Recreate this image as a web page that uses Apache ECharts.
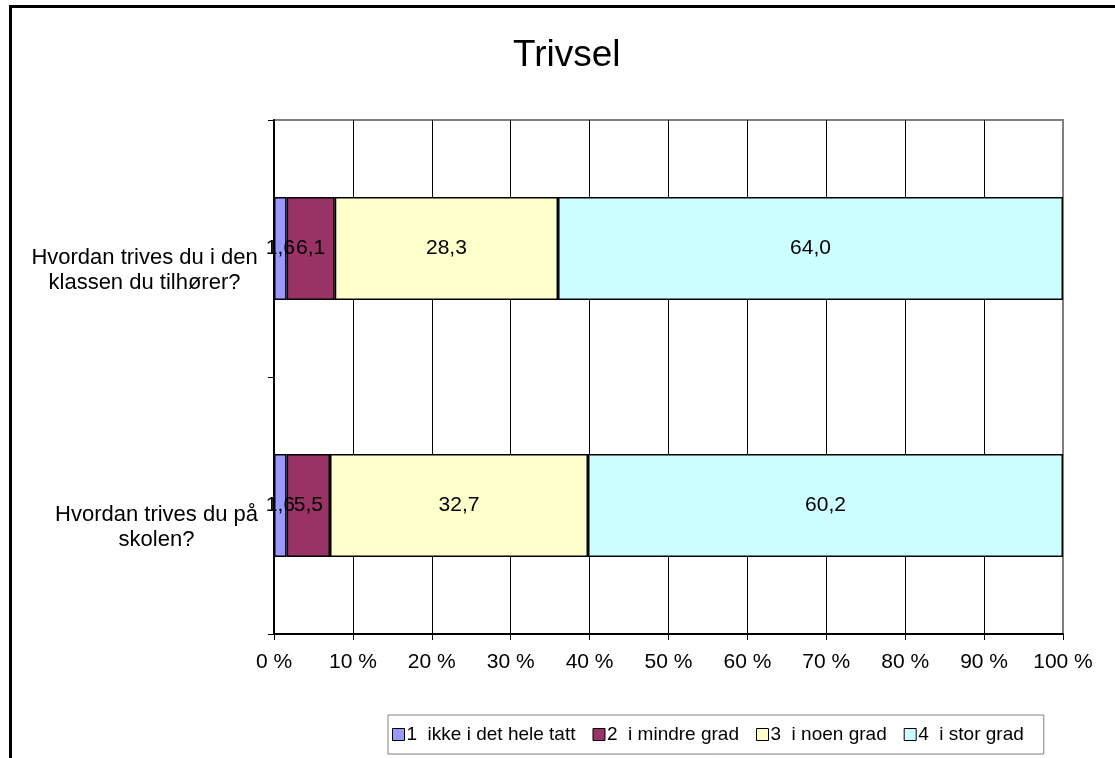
<!DOCTYPE html>
<html>
<head>
<meta charset="utf-8">
<script src="https://cdn.jsdelivr.net/npm/echarts@6/dist/echarts.min.js"></script>
<style>
html,body{margin:0;padding:0;background:#fff;}
#c{width:1115px;height:758px;}
</style>
</head>
<body>
<div id="c"></div>
<script>
const categories = ['Hvordan trives du i den\nklassen du tilhører?', 'Hvordan trives du på\nskolen?'];
const seriesNames = ['1  ikke i det hele tatt', '2  i mindre grad', '3  i noen grad', '4  i stor grad'];
const s1 = [1.6, 1.6];
const s2 = [6.1, 5.5];
const s3 = [28.3, 32.7];
const s4 = [64.0, 60.2];
const seriesValues = [s1, s2, s3, s4];
const colors = ['#9999FF', '#993366', '#FFFFCC', '#CCFFFF'];
const xTicks = { min: 0, max: 100, interval: 10 };

const FONT = 'Liberation Sans, Arial, sans-serif';
const FS = 21;
const FSY = 22;

// measure label widths so lines can be centred within a right-aligned block
const cv = document.createElement('canvas').getContext('2d');
cv.font = FSY + 'px ' + FONT;
const rich = {};
categories.forEach((c, i) => {
  const w = Math.max(...c.split('\n').map(l => cv.measureText(l).width));
  rich['c' + i] = { width: Math.ceil(w), align: 'center', fontSize: FSY, fontFamily: FONT, color: '#000', lineHeight: 25 };
});

const chart = echarts.init(document.getElementById('c'), null, { renderer: 'canvas' });
chart.setOption({
  animation: false,
  backgroundColor: '#fff',
  textStyle: { fontFamily: FONT },
  title: {
    text: 'Trivsel',
    left: 513,
    top: 37,
    padding: 0,
    textStyle: { fontSize: 37, fontWeight: 'normal', color: '#000', fontFamily: FONT }
  },
  graphic: [{
    type: 'polyline',
    shape: { points: [[10.5, 758], [10.5, 6.5], [1115, 6.5]] },
    style: { stroke: '#000', lineWidth: 3, fill: null },
    silent: true
  }],
  legend: {
    data: seriesNames,
    top: 715,
    left: 388,
    padding: [10, 20, 10, 4],
    borderColor: '#808080',
    borderWidth: 1,
    itemWidth: 12,
    itemHeight: 12,
    itemGap: 17,
    icon: 'rect',
    itemStyle: { borderColor: '#000', borderWidth: 1 },
    textStyle: { fontSize: 19, color: '#000', fontFamily: FONT, padding: [0, 0, 0, -3] }
  },
  grid: {
    left: 274, right: 52, top: 120, bottom: 124,
    show: true, borderColor: '#808080', borderWidth: 2, backgroundColor: 'transparent'
  },
  xAxis: {
    type: 'value',
    min: xTicks.min, max: xTicks.max, interval: xTicks.interval,
    axisLine: { show: true, lineStyle: { color: '#000', width: 2 } },
    axisTick: { show: true, length: 6, lineStyle: { color: '#000' } },
    axisLabel: { formatter: '{value} %', fontSize: FS, color: '#000', margin: 18, fontFamily: FONT },
    splitLine: { show: true, showMinLine: false, showMaxLine: false, lineStyle: { color: '#000', width: 1 } }
  },
  yAxis: {
    type: 'category',
    inverse: true,
    data: categories,
    axisLine: { show: true, lineStyle: { color: '#000', width: 2 } },
    axisTick: { show: true, length: 6, lineStyle: { color: '#000' } },
    axisLabel: {
      margin: 16,
      padding: [44, 0, 0, 0],
      formatter: (v, i) => v.split('\n').map(l => '{c' + i + '|' + l + '}').join('\n'),
      rich: rich
    },
    splitLine: { show: false }
  },
  series: seriesNames.map((n, k) => ({
    name: n,
    type: 'bar',
    stack: 'total',
    barWidth: '40%',
    data: seriesValues[k],
    itemStyle: { color: colors[k], borderColor: '#000', borderWidth: 1.5 },
    label: {
      show: true,
      position: 'inside',
      color: '#000',
      fontSize: FS,
      fontFamily: FONT,
      textBorderWidth: 0,
      formatter: p => p.value.toFixed(1).replace('.', ',')
    }
  }))
});
</script>
</body>
</html>
